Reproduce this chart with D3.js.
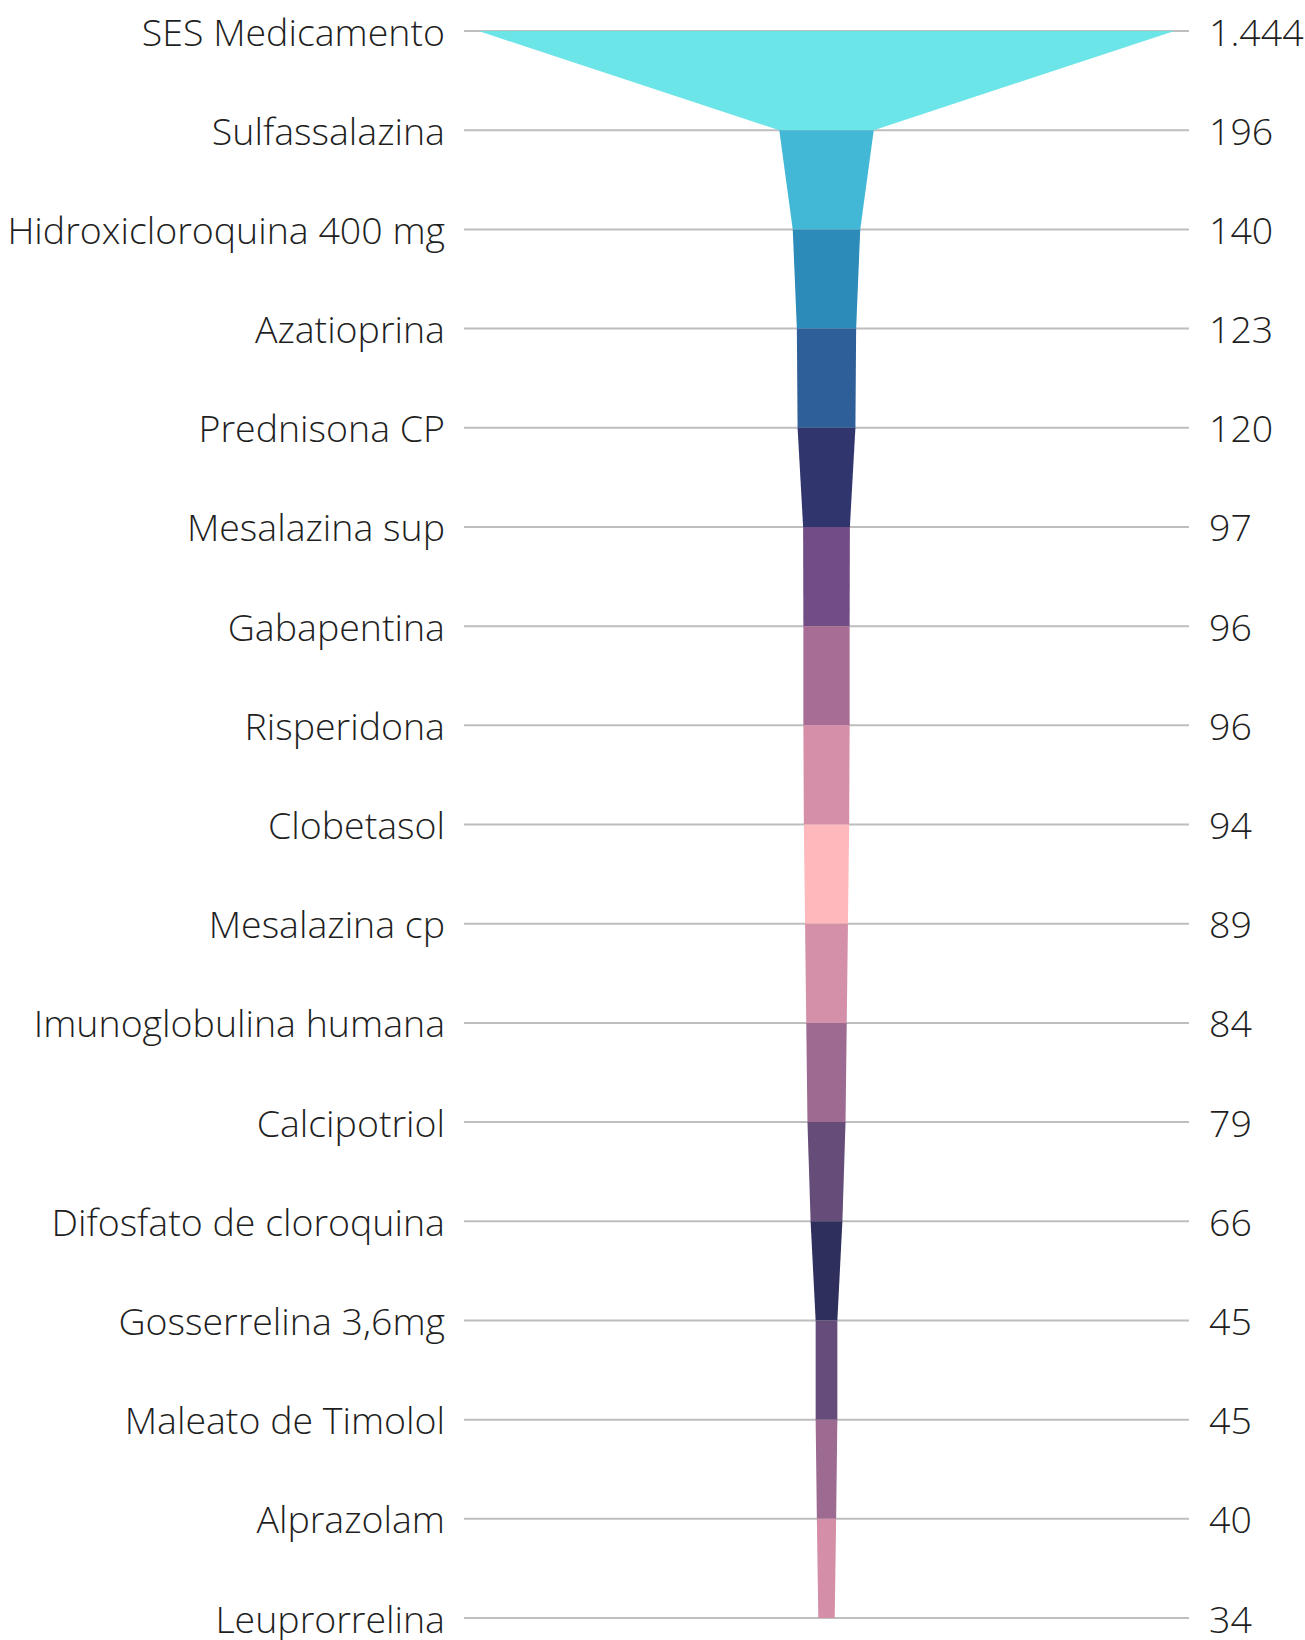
<!DOCTYPE html>
<html>
<head>
<meta charset="utf-8">
<script src="https://cdn.jsdelivr.net/npm/d3@7"></script>
<style>
  html, body { margin: 0; padding: 0; background: #fff; }
  svg { display: block; }
  text { font-family: "Open Sans", sans-serif; font-weight: 300; fill: #1f1f1f; }
</style>
</head>
<body>
<svg id="chart" width="1305" height="1640"></svg>
<script>
const categories = [
  "SES Medicamento", "Sulfassalazina", "Hidroxicloroquina 400 mg", "Azatioprina",
  "Prednisona CP", "Mesalazina sup", "Gabapentina", "Risperidona", "Clobetasol",
  "Mesalazina cp", "Imunoglobulina humana", "Calcipotriol", "Difosfato de cloroquina",
  "Gosserrelina 3,6mg", "Maleato de Timolol", "Alprazolam", "Leuprorrelina"
];
const values = [1444, 196, 140, 123, 120, 97, 96, 96, 94, 89, 84, 79, 66, 45, 45, 40, 34];
const segmentColors = [
  "#6CE5E8", "#42B8D6", "#2D8BBA", "#2F5F98", "#31356E", "#714C85", "#A86D94", "#D68FA8",
  "#FFB8BC", "#D490A8", "#9D6B91", "#664D79", "#2E2F5C", "#654C7A", "#9D6A91", "#D48EA7"
];

const svg = d3.select("#chart");
const lineX0 = 464, lineX1 = 1189, cx = (lineX0 + lineX1) / 2;
const y = d3.scalePoint().domain(categories).range([31, 1618]);
const w = d3.scaleLinear().domain([0, d3.max(values)]).range([0, 696]);
const locale = d3.formatLocale({decimal: ",", thousands: ".", grouping: [3], currency: ["R$", ""]});
const fmt = locale.format(",d");

// grid lines
svg.append("g").selectAll("line").data(categories).join("line")
  .attr("x1", lineX0).attr("x2", lineX1)
  .attr("y1", d => y(d)).attr("y2", d => y(d))
  .attr("stroke", "#BEBEBE").attr("stroke-width", 2);

// funnel segments
const segs = d3.range(values.length - 1).map(i => ({
  y0: y(categories[i]), y1: y(categories[i + 1]),
  w0: w(values[i]), w1: w(values[i + 1]), color: segmentColors[i]
}));
svg.append("g").selectAll("path").data(segs).join("path")
  .attr("d", s => `M${cx - s.w0 / 2},${s.y0}L${cx + s.w0 / 2},${s.y0}L${cx + s.w1 / 2},${s.y1}L${cx - s.w1 / 2},${s.y1}Z`)
  .attr("fill", s => s.color);

// labels
svg.append("g").selectAll("text").data(categories).join("text")
  .attr("x", 445).attr("y", d => y(d) + 14.5)
  .attr("text-anchor", "end").attr("font-size", 37.5)
  .text(d => d);

svg.append("g").selectAll("text").data(values).join("text")
  .attr("x", 1209).attr("y", (d, i) => y(categories[i]) + 14.5)
  .attr("font-size", 37.5)
  .text(d => fmt(d));
</script>
</body>
</html>
